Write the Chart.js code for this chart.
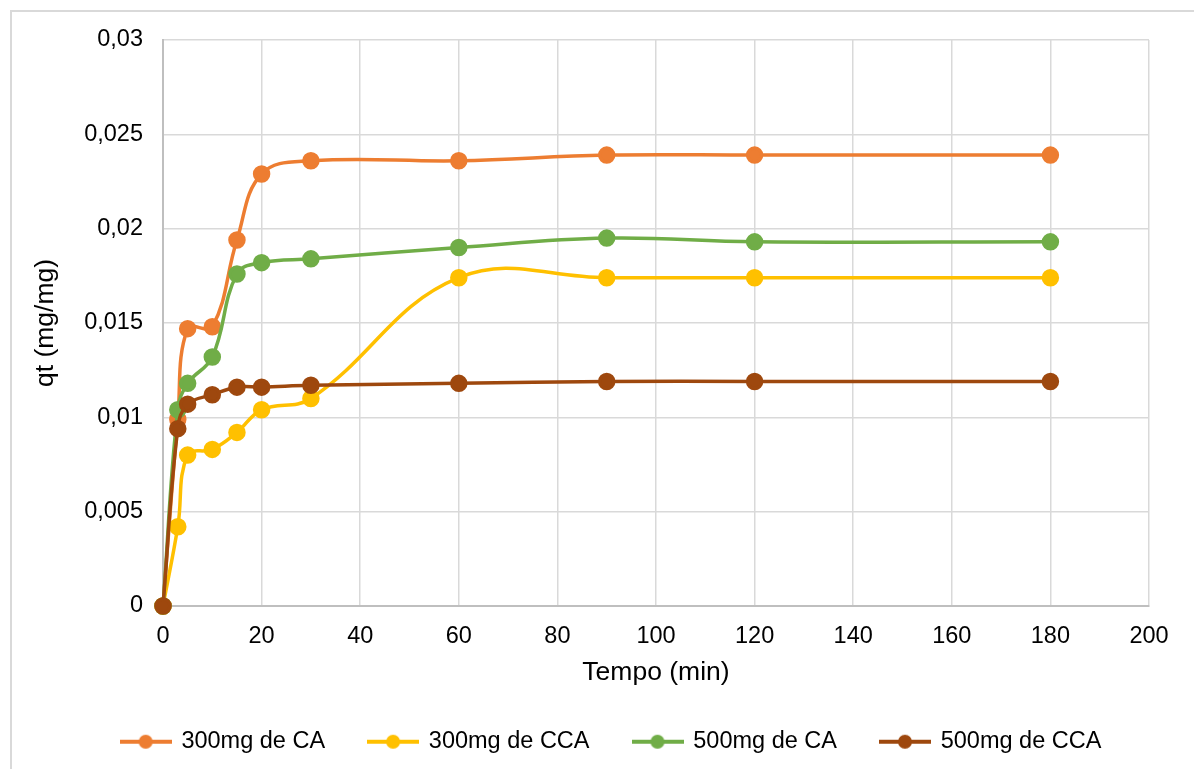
<!DOCTYPE html>
<html>
<head>
<meta charset="utf-8">
<script src="https://cdn.jsdelivr.net/npm/chart.js@4/dist/chart.umd.min.js"></script>
<style>
  body { margin: 0; background: #fff; }
  #wrap { position: relative; width: 1194px; height: 769px; overflow: hidden; }
  #frame { position: absolute; left: 10px; top: 10px; width: 1200px; height: 800px;
           border-left: 2px solid #d9d9d9; border-top: 2px solid #d9d9d9; }
  canvas { position: absolute; left: 0; top: 0; }
</style>
</head>
<body>
<div id="wrap">
  <div id="frame"></div>
  <canvas id="kinetics" width="1194" height="769"></canvas>
</div>
<script>
"use strict";
const tempo = [0, 3, 5, 10, 15, 20, 30, 60, 90, 120, 180];
const ca300 = [0, 0.0099, 0.0147, 0.0148, 0.0194, 0.0229, 0.0236, 0.0236, 0.0239, 0.0239, 0.0239];
const cca300 = [0, 0.0042, 0.0080, 0.0083, 0.0092, 0.0104, 0.0110, 0.0174, 0.0174, 0.0174, 0.0174];
const ca500 = [0, 0.0104, 0.0118, 0.0132, 0.0176, 0.0182, 0.0184, 0.0190, 0.0195, 0.0193, 0.0193];
const cca500 = [0, 0.0094, 0.0107, 0.0112, 0.0116, 0.0116, 0.0117, 0.0118, 0.0119, 0.0119, 0.0119];
const seriesNames = ["300mg de CA", "300mg de CCA", "500mg de CA", "500mg de CCA"];
const seriesColors = ["#ed7d31", "#ffc000", "#70ad47", "#9e480e"];

const font = "'Liberation Sans', Arial, sans-serif";

// little line+dot images for the legend
function legendIcon(color) {
    const c = document.createElement("canvas");
    c.width = 52;
    c.height = 16;
    const g = c.getContext("2d");
    g.strokeStyle = color;
    g.lineWidth = 4;
    g.beginPath();
    g.moveTo(0, 8);
    g.lineTo(52, 8);
    g.stroke();
    g.fillStyle = color;
    g.beginPath();
    g.arc(26, 8, 7, 0, Math.PI * 2);
    g.fill();
    return c;
}
const icons = seriesColors.map(legendIcon);

// later series drawn on top, like the original
function makeSet(name, values, color, idx) {
    return {
        label: name,
        data: tempo.map((t, i) => ({ x: t, y: values[i] })),
        borderColor: color,
        backgroundColor: color,
        borderWidth: 3.5,
        pointRadius: 7,
        pointHoverRadius: 7,
        tension: 0.4,
        fill: false,
        clip: false,
        order: 3 - idx,
    };
}

// nudge the legend so it sits where the original one is
const legendShift = {
    id: "legendShift",
    afterLayout(chart) {
        chart.legend.left += 32;
        chart.legend.right += 32;
    },
};

const kineticsData = {
    datasets: [
        makeSet(seriesNames[0], ca300, seriesColors[0], 0),
        makeSet(seriesNames[1], cca300, seriesColors[1], 1),
        makeSet(seriesNames[2], ca500, seriesColors[2], 2),
        makeSet(seriesNames[3], cca500, seriesColors[3], 3),
    ],
};

const kineticsConfig = {
    type: "line",
    data: kineticsData,
    plugins: [legendShift],
    options: {
        responsive: false,
        animation: false,
        layout: {
            padding: { left: 10, top: 40, right: 45, bottom: 5.5 },
        },
        scales: {
            x: {
                type: "linear",
                min: 0,
                max: 200,
                ticks: {
                    stepSize: 20,
                    color: "#000",
                    padding: 16,
                    maxRotation: 0,
                    font: { family: font, size: 23.5 },
                },
                grid: { color: "#d9d9d9", lineWidth: 1.5, drawTicks: false },
                border: { color: "#bfbfbf", width: 2 },
                title: {
                    display: true,
                    text: "Tempo (min)",
                    color: "#000",
                    padding: { top: 0, bottom: -3 },
                    font: { family: font, size: 26.5 },
                },
                afterFit: (scale) => { scale.height = 80; },
            },
            y: {
                min: 0,
                max: 0.03,
                ticks: {
                    stepSize: 0.005,
                    color: "#000",
                    padding: 20,
                    font: { family: font, size: 23.5 },
                    callback: (v) => String(Number(v.toFixed(3))).replace(".", ","),
                },
                grid: { color: "#d9d9d9", lineWidth: 1.5, drawTicks: false },
                border: { color: "#bfbfbf", width: 2 },
                title: {
                    display: true,
                    text: "qt (mg/mg)",
                    color: "#000",
                    padding: { top: 20, bottom: 0 },
                    font: { family: font, size: 26.5 },
                },
                afterFit: (scale) => { scale.width = 153; },
            },
        },
        plugins: {
            legend: {
                position: "bottom",
                labels: {
                    usePointStyle: true,
                    pointStyleWidth: 48,
                    padding: 44,
                    color: "#000",
                    font: { family: font, size: 23.5 },
                    sort: (a, b) => a.datasetIndex - b.datasetIndex,
                    generateLabels: (chart) => {
                        const items = Chart.defaults.plugins.legend.labels.generateLabels(chart);
                        items.forEach((it) => { it.pointStyle = icons[it.datasetIndex]; });
                        return items;
                    },
                },
            },
            tooltip: { enabled: false },
        },
    },
};

const kineticsChart = new Chart(document.getElementById("kinetics"), kineticsConfig);
</script>
</body>
</html>
